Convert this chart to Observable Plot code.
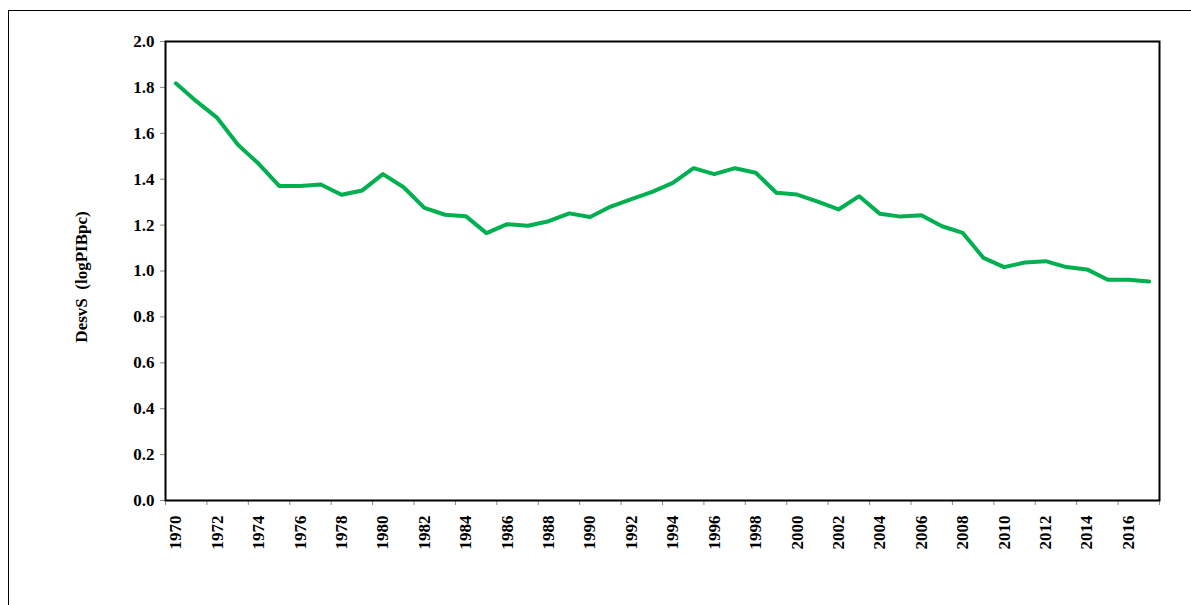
<!DOCTYPE html>
<html>
<head>
<meta charset="utf-8">
<script src="https://cdn.jsdelivr.net/npm/d3@7"></script>
<script src="https://cdn.jsdelivr.net/npm/@observablehq/plot@0.6"></script>
<style>
  body { margin: 0; background: #fff; overflow: hidden; }
  #frame { position: absolute; left: 8px; top: 10px; width: 1400px; height: 800px; border: 1px solid #000; }
  #chart { position: absolute; left: 0; top: 0; }
</style>
</head>
<body>
<div id="frame"></div>
<div id="chart"></div>
<script>
const years = d3.range(1970, 2018);
const desvS = [
  1.818, 1.739, 1.667, 1.550, 1.467, 1.370, 1.370, 1.377, 1.332, 1.351,
  1.422, 1.365, 1.275, 1.245, 1.239, 1.165, 1.204, 1.197, 1.217, 1.251,
  1.235, 1.281, 1.313, 1.345, 1.384, 1.448, 1.422, 1.448, 1.428, 1.341,
  1.333, 1.302, 1.268, 1.326, 1.249, 1.237, 1.243, 1.195, 1.166, 1.057,
  1.017, 1.037, 1.043, 1.017, 1.007, 0.962, 0.962, 0.954
];
const yTicks = d3.range(0, 2.01, 0.2);
const xLabelYears = d3.range(1970, 2017, 2);
const xTickBounds = d3.range(1969.5, 2018, 2);

const data = years.map((y, i) => ({ year: y, value: desvS[i] }));

const chart = Plot.plot({
  width: 1191,
  height: 605,
  marginLeft: 165,
  marginRight: 32,
  marginTop: 41,
  marginBottom: 105,
  style: { fontFamily: '"Liberation Serif", "Times New Roman", serif', fontWeight: 'bold', fontSize: '17px', color: '#000', background: 'transparent' },
  x: { domain: [1969.5, 2017.5], axis: null },
  y: { domain: [0, 2], axis: null },
  marks: [
    // y axis
    Plot.axisY({ ticks: yTicks, tickFormat: d => d.toFixed(1), tickSize: 5, tickPadding: 6, stroke: '#888', label: null }),
    Plot.text(['DesvS  (logPIBpc)'], { frameAnchor: 'left', textAnchor: 'middle', dx: -84, dy: 6, rotate: -90, fontSize: 17, fontWeight: 'bold', letterSpacing: 0.8 }),
    // x axis: ticks on category boundaries, labels on categories
    Plot.axisX({ ticks: xTickBounds, tickSize: 5, tickFormat: () => '', stroke: '#888', label: null }),
    Plot.axisX({ ticks: xLabelYears, tickSize: 0, tickPadding: 15, tickRotate: -90, tickFormat: d => String(d), label: null, letterSpacing: 1 }),
    Plot.frame({ stroke: '#000', strokeWidth: 2 }),
    Plot.lineY(data, { x: 'year', y: 'value', stroke: '#00B050', strokeWidth: 4 })
  ]
});

d3.select('#chart').append(() => chart);
</script>
</body>
</html>
